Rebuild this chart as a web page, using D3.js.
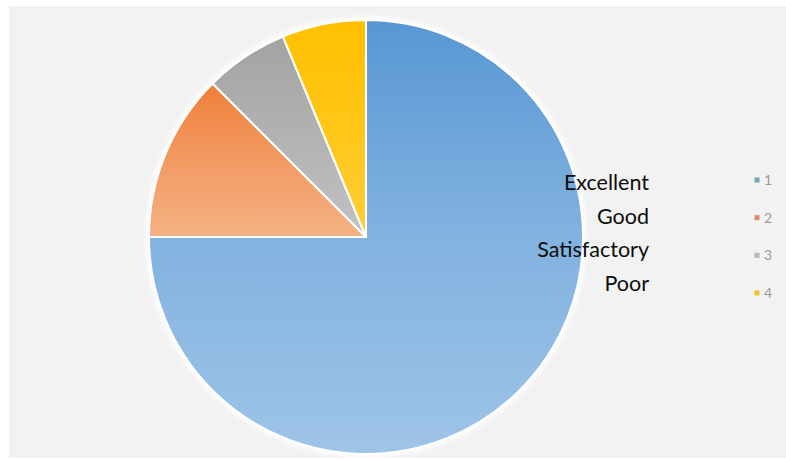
<!DOCTYPE html>
<html>
<head>
<meta charset="utf-8">
<script src="https://cdn.jsdelivr.net/npm/d3@7"></script>
<style>
  html, body { margin: 0; padding: 0; background: #ffffff; }
  svg { display: block; }
</style>
</head>
<body>
<svg id="chart" width="786" height="459"></svg>
<script>
// ---- data ----
const categories = ["Excellent", "Good", "Satisfactory", "Poor"];
const values = [12, 2, 1, 1];
const legendLabels = ["1", "2", "3", "4"];

// ---- styles ----
const gradTop = ["#5897d4", "#ee7f38", "#a3a3a3", "#ffc000"];
const gradMid = ["#82b2e0", "#f29a62", "#b2b2b2", "#ffc618"];
const gradBottom = ["#9ec4e7", "#f5b184", "#c2c2c2", "#ffcf3a"];
const legendColors = ["#7aa3b2", "#d98a6c", "#b8b8b8", "#e6c52a"];

const W = 786, H = 459;
const svg = d3.select("#chart");

// panel background
svg.append("rect")
  .attr("x", 9).attr("y", 6)
  .attr("width", W - 9).attr("height", 452)
  .attr("fill", "#f2f2f2");

const cx = 366, cy = 237, R = 217;

const defs = svg.append("defs");
categories.forEach((c, i) => {
  const g = defs.append("linearGradient")
    .attr("id", "grad" + i)
    .attr("x1", 0).attr("y1", 0)
    .attr("x2", 0).attr("y2", 1);
  g.append("stop").attr("offset", "0%").attr("stop-color", gradTop[i]);
  g.append("stop").attr("offset", "50%").attr("stop-color", gradMid[i]);
  g.append("stop").attr("offset", "100%").attr("stop-color", gradBottom[i]);
});

const blur = defs.append("filter").attr("id", "glow")
  .attr("x", "-10%").attr("y", "-10%").attr("width", "120%").attr("height", "120%");
blur.append("feGaussianBlur").attr("stdDeviation", 2.5);

const data = categories.map((c, i) => ({ name: c, value: values[i], i }));
const pie = d3.pie().sort(null).value(d => d.value);
const arc = d3.arc().innerRadius(0).outerRadius(R);

const gPie = svg.append("g").attr("transform", `translate(${cx},${cy})`);

// soft white halo around pie
gPie.append("circle").attr("r", R + 3).attr("fill", "#ffffff").attr("filter", "url(#glow)");

gPie.selectAll("path.slice")
  .data(pie(data))
  .join("path")
  .attr("class", "slice")
  .attr("d", arc)
  .attr("fill", d => `url(#grad${d.data.i})`)
  .attr("stroke", "#ffffff")
  .attr("stroke-width", 2)
  .attr("stroke-linejoin", "round");

// category labels (right aligned)
const labelY = d3.scalePoint().domain(categories).range([190, 291]);
svg.append("g").selectAll("text")
  .data(categories)
  .join("text")
  .attr("x", 649)
  .attr("y", d => labelY(d))
  .attr("text-anchor", "end")
  .attr("font-family", "Lato, 'Open Sans', sans-serif")
  .attr("font-size", 21.5)
  .attr("fill", "#0d0d0d")
  .text(d => d);

// legend
const legY = d3.scalePoint().domain(legendLabels).range([180, 293]);
const leg = svg.append("g").selectAll("g")
  .data(legendLabels)
  .join("g")
  .attr("transform", d => `translate(757,${legY(d)})`);
leg.append("rect")
  .attr("x", -2.5).attr("y", -2.5)
  .attr("width", 5).attr("height", 5)
  .attr("fill", (d, i) => legendColors[i]);
leg.append("text")
  .attr("x", 7).attr("y", 0)
  .attr("dy", "0.35em")
  .attr("font-family", "Lato, 'Open Sans', sans-serif")
  .attr("font-size", 14)
  .attr("fill", "#9a9a9a")
  .text(d => d);
</script>
</body>
</html>
